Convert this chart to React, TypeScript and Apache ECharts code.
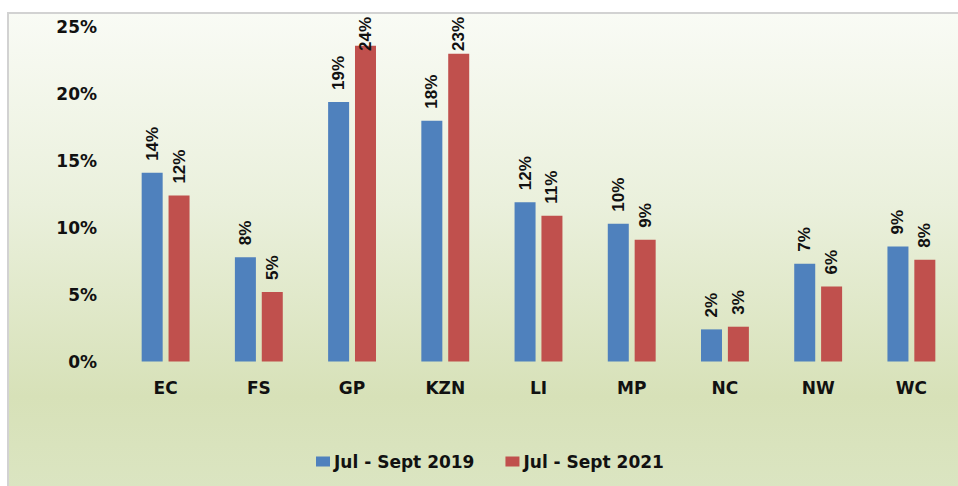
import React, { useEffect, useRef } from "react";
import * as echarts from "echarts";

const categories = ["EC", "FS", "GP", "KZN", "LI", "MP", "NC", "NW", "WC"];
const series2019 = [14.1, 7.8, 19.4, 18.0, 11.9, 10.3, 2.4, 7.3, 8.6];
const series2021 = [12.4, 5.2, 23.6, 23.0, 10.9, 9.1, 2.6, 5.6, 7.6];
const seriesNames = ["Jul - Sept 2019", "Jul - Sept 2021"];
const yTicks = { min: 0, max: 25, interval: 5 };

const axisFont = "'DejaVu Sans', sans-serif";
const labelFont = "'Liberation Sans', Arial, sans-serif";

const GRID_TOP = 27;
const GRID_BOTTOM = 124.5;
const CHART_H = 486;
const LABEL_LEN = 34;
const LABEL_TOP_LIMIT = 17;

export default function App() {
  const ref = useRef<HTMLDivElement>(null);
  useEffect(() => {
    const chart = echarts.init(ref.current!, null, { renderer: "svg" });
    const plotH = CHART_H - GRID_TOP - GRID_BOTTOM;
    const zeroY = CHART_H - GRID_BOTTOM;
    // keep labels inside the chart area, as the original does for the tallest bars
    const withLabelFit = (vals: number[]) =>
      vals.map((v) => {
        const barTop = zeroY - (v / yTicks.max) * plotH;
        const d = Math.min(12, barTop - LABEL_TOP_LIMIT - LABEL_LEN);
        return { value: v, label: { distance: d } };
      });
    const label = {
      show: true,
      position: "top",
      distance: 12,
      rotate: 90,
      align: "left",
      verticalAlign: "middle",
      fontFamily: labelFont,
      fontWeight: "bold",
      fontSize: 17,
      color: "#111",
      formatter: (p: any) => `${Math.round(p.value)}%`,
    };
    chart.setOption({
      animation: false,
      graphic: [
        {
          type: "rect",
          z: -10,
          shape: { x: 8, y: 13, width: 960, height: 480 },
          style: {
            fill: new echarts.graphic.LinearGradient(0, 0, 0, 1, [
              { offset: 0, color: "#f9fbf5" },
              { offset: 0.4, color: "#eaf0dc" },
              { offset: 0.8, color: "#d7e1b8" },
              { offset: 1, color: "#dbe5c2" },
            ]),
            stroke: "#d2d2d2",
            lineWidth: 2,
          },
        },
      ],
      legend: {
        data: seriesNames,
        left: 316,
        top: 453,
        padding: 0,
        itemWidth: 14,
        itemHeight: 10,
        itemGap: 31,
        icon: "rect",
        textStyle: {
          fontFamily: axisFont,
          fontWeight: "bold",
          fontSize: 17,
          color: "#111",
          padding: [0, 0, 0, -1],
        },
      },
      grid: { left: 119, right: -13, top: GRID_TOP, bottom: GRID_BOTTOM },
      xAxis: {
        type: "category",
        data: categories,
        axisLine: { show: false },
        axisTick: { show: false },
        axisLabel: {
          margin: 18,
          fontFamily: axisFont,
          fontWeight: "bold",
          fontSize: 17,
          color: "#111",
        },
      },
      yAxis: {
        type: "value",
        min: yTicks.min,
        max: yTicks.max,
        interval: yTicks.interval,
        splitLine: { show: false },
        axisLine: { show: false },
        axisTick: { show: false },
        axisLabel: {
          margin: 22,
          formatter: "{value}%",
          fontFamily: axisFont,
          fontWeight: "bold",
          fontSize: 17,
          color: "#111",
        },
      },
      series: [
        {
          name: seriesNames[0],
          type: "bar",
          data: withLabelFit(series2019),
          barWidth: 21,
          barGap: "28%",
          itemStyle: { color: "#4f81bd" },
          label,
        },
        {
          name: seriesNames[1],
          type: "bar",
          data: withLabelFit(series2021),
          barWidth: 21,
          itemStyle: { color: "#c0504d" },
          label,
        },
      ],
    });
    return () => chart.dispose();
  }, []);
  return (
    <div
      ref={ref}
      style={{ position: "fixed", left: 0, top: 0, width: 958, height: 486, background: "#fff" }}
    />
  );
}
